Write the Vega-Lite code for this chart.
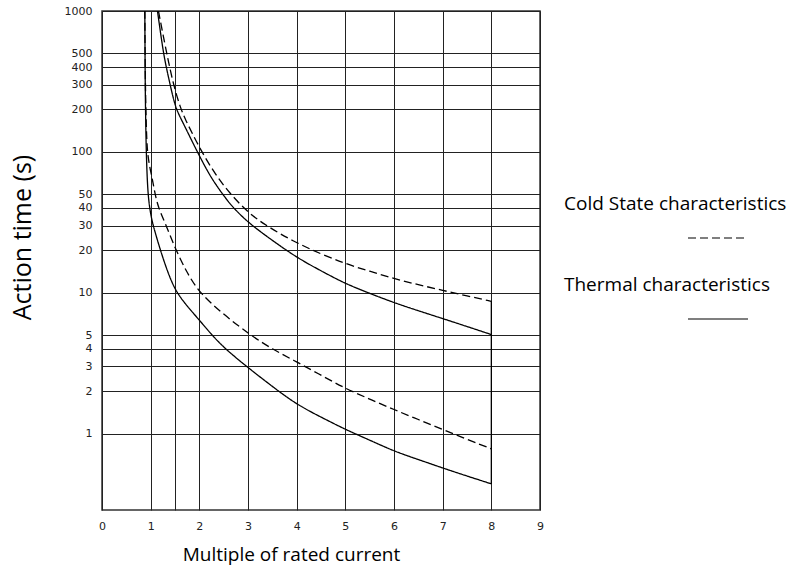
{
  "$schema": "https://vega.github.io/schema/vega-lite/v6.json",
  "width": 438,
  "height": 499,
  "autosize": {"type": "none"},
  "padding": {"left": 102, "top": 11, "right": 252, "bottom": 63},
  "background": "white",
  "config": {
    "view": {"stroke": "#333", "strokeWidth": 1.5}
  },
  "datasets": {
    "curves": [
      {"curve": "upper", "type": "Thermal characteristics", "x": 1.14, "t": 1000},
      {"curve": "upper", "type": "Thermal characteristics", "x": 1.2, "t": 710},
      {"curve": "upper", "type": "Thermal characteristics", "x": 1.265, "t": 500},
      {"curve": "upper", "type": "Thermal characteristics", "x": 1.32, "t": 400},
      {"curve": "upper", "type": "Thermal characteristics", "x": 1.4, "t": 300},
      {"curve": "upper", "type": "Thermal characteristics", "x": 1.5, "t": 212},
      {"curve": "upper", "type": "Thermal characteristics", "x": 1.6, "t": 178},
      {"curve": "upper", "type": "Thermal characteristics", "x": 1.7, "t": 152},
      {"curve": "upper", "type": "Thermal characteristics", "x": 1.83, "t": 123},
      {"curve": "upper", "type": "Thermal characteristics", "x": 1.96, "t": 100},
      {"curve": "upper", "type": "Thermal characteristics", "x": 2.22, "t": 67},
      {"curve": "upper", "type": "Thermal characteristics", "x": 2.48, "t": 50},
      {"curve": "upper", "type": "Thermal characteristics", "x": 2.67, "t": 41},
      {"curve": "upper", "type": "Thermal characteristics", "x": 3, "t": 31.5},
      {"curve": "upper", "type": "Thermal characteristics", "x": 3.5, "t": 23.5},
      {"curve": "upper", "type": "Thermal characteristics", "x": 4, "t": 17.8},
      {"curve": "upper", "type": "Thermal characteristics", "x": 4.5, "t": 14.3},
      {"curve": "upper", "type": "Thermal characteristics", "x": 5, "t": 11.6},
      {"curve": "upper", "type": "Thermal characteristics", "x": 5.5, "t": 9.9},
      {"curve": "upper", "type": "Thermal characteristics", "x": 6, "t": 8.5},
      {"curve": "upper", "type": "Thermal characteristics", "x": 6.5, "t": 7.45},
      {"curve": "upper", "type": "Thermal characteristics", "x": 7, "t": 6.56},
      {"curve": "upper", "type": "Thermal characteristics", "x": 7.5, "t": 5.76},
      {"curve": "upper", "type": "Thermal characteristics", "x": 8, "t": 5.05},

      {"curve": "upper", "type": "Cold State characteristics", "x": 1.16, "t": 1000},
      {"curve": "upper", "type": "Cold State characteristics", "x": 1.24, "t": 720},
      {"curve": "upper", "type": "Cold State characteristics", "x": 1.33, "t": 500},
      {"curve": "upper", "type": "Cold State characteristics", "x": 1.39, "t": 400},
      {"curve": "upper", "type": "Cold State characteristics", "x": 1.47, "t": 300},
      {"curve": "upper", "type": "Cold State characteristics", "x": 1.61, "t": 205},
      {"curve": "upper", "type": "Cold State characteristics", "x": 1.72, "t": 168},
      {"curve": "upper", "type": "Cold State characteristics", "x": 1.86, "t": 134},
      {"curve": "upper", "type": "Cold State characteristics", "x": 2.05, "t": 100},
      {"curve": "upper", "type": "Cold State characteristics", "x": 2.33, "t": 69},
      {"curve": "upper", "type": "Cold State characteristics", "x": 2.62, "t": 51},
      {"curve": "upper", "type": "Cold State characteristics", "x": 3, "t": 37},
      {"curve": "upper", "type": "Cold State characteristics", "x": 3.4, "t": 29.5},
      {"curve": "upper", "type": "Cold State characteristics", "x": 3.93, "t": 23.2},
      {"curve": "upper", "type": "Cold State characteristics", "x": 4.5, "t": 18.8},
      {"curve": "upper", "type": "Cold State characteristics", "x": 5, "t": 16.1},
      {"curve": "upper", "type": "Cold State characteristics", "x": 5.5, "t": 14.2},
      {"curve": "upper", "type": "Cold State characteristics", "x": 6, "t": 12.6},
      {"curve": "upper", "type": "Cold State characteristics", "x": 6.5, "t": 11.4},
      {"curve": "upper", "type": "Cold State characteristics", "x": 7, "t": 10.4},
      {"curve": "upper", "type": "Cold State characteristics", "x": 7.5, "t": 9.5},
      {"curve": "upper", "type": "Cold State characteristics", "x": 8, "t": 8.7},

      {"curve": "lower", "type": "Thermal characteristics", "x": 0.88, "t": 1000},
      {"curve": "lower", "type": "Thermal characteristics", "x": 0.884, "t": 500},
      {"curve": "lower", "type": "Thermal characteristics", "x": 0.89, "t": 250},
      {"curve": "lower", "type": "Thermal characteristics", "x": 0.9, "t": 150},
      {"curve": "lower", "type": "Thermal characteristics", "x": 0.91, "t": 100},
      {"curve": "lower", "type": "Thermal characteristics", "x": 0.925, "t": 70},
      {"curve": "lower", "type": "Thermal characteristics", "x": 0.94, "t": 55},
      {"curve": "lower", "type": "Thermal characteristics", "x": 0.96, "t": 45},
      {"curve": "lower", "type": "Thermal characteristics", "x": 1.0, "t": 36},
      {"curve": "lower", "type": "Thermal characteristics", "x": 1.05, "t": 30},
      {"curve": "lower", "type": "Thermal characteristics", "x": 1.2, "t": 20},
      {"curve": "lower", "type": "Thermal characteristics", "x": 1.35, "t": 14},
      {"curve": "lower", "type": "Thermal characteristics", "x": 1.5, "t": 10.5},
      {"curve": "lower", "type": "Thermal characteristics", "x": 1.7, "t": 8.4},
      {"curve": "lower", "type": "Thermal characteristics", "x": 2, "t": 6.4},
      {"curve": "lower", "type": "Thermal characteristics", "x": 2.26, "t": 5.0},
      {"curve": "lower", "type": "Thermal characteristics", "x": 2.53, "t": 4.0},
      {"curve": "lower", "type": "Thermal characteristics", "x": 3, "t": 2.94},
      {"curve": "lower", "type": "Thermal characteristics", "x": 3.5, "t": 2.16},
      {"curve": "lower", "type": "Thermal characteristics", "x": 4, "t": 1.61},
      {"curve": "lower", "type": "Thermal characteristics", "x": 4.5, "t": 1.31},
      {"curve": "lower", "type": "Thermal characteristics", "x": 5, "t": 1.07},
      {"curve": "lower", "type": "Thermal characteristics", "x": 5.5, "t": 0.9},
      {"curve": "lower", "type": "Thermal characteristics", "x": 6, "t": 0.75},
      {"curve": "lower", "type": "Thermal characteristics", "x": 6.5, "t": 0.655},
      {"curve": "lower", "type": "Thermal characteristics", "x": 7, "t": 0.57},
      {"curve": "lower", "type": "Thermal characteristics", "x": 7.5, "t": 0.5},
      {"curve": "lower", "type": "Thermal characteristics", "x": 8, "t": 0.44},

      {"curve": "lower", "type": "Cold State characteristics", "x": 0.88, "t": 1000},
      {"curve": "lower", "type": "Cold State characteristics", "x": 0.885, "t": 500},
      {"curve": "lower", "type": "Cold State characteristics", "x": 0.895, "t": 250},
      {"curve": "lower", "type": "Cold State characteristics", "x": 0.91, "t": 150},
      {"curve": "lower", "type": "Cold State characteristics", "x": 0.93, "t": 100},
      {"curve": "lower", "type": "Cold State characteristics", "x": 0.98, "t": 78},
      {"curve": "lower", "type": "Cold State characteristics", "x": 1.04, "t": 63},
      {"curve": "lower", "type": "Cold State characteristics", "x": 1.09, "t": 50},
      {"curve": "lower", "type": "Cold State characteristics", "x": 1.16, "t": 40},
      {"curve": "lower", "type": "Cold State characteristics", "x": 1.32, "t": 30},
      {"curve": "lower", "type": "Cold State characteristics", "x": 1.52, "t": 20},
      {"curve": "lower", "type": "Cold State characteristics", "x": 1.75, "t": 13.8},
      {"curve": "lower", "type": "Cold State characteristics", "x": 2, "t": 10},
      {"curve": "lower", "type": "Cold State characteristics", "x": 2.5, "t": 7},
      {"curve": "lower", "type": "Cold State characteristics", "x": 3.05, "t": 5},
      {"curve": "lower", "type": "Cold State characteristics", "x": 3.49, "t": 4},
      {"curve": "lower", "type": "Cold State characteristics", "x": 4, "t": 3.23},
      {"curve": "lower", "type": "Cold State characteristics", "x": 4.5, "t": 2.6},
      {"curve": "lower", "type": "Cold State characteristics", "x": 5, "t": 2.09},
      {"curve": "lower", "type": "Cold State characteristics", "x": 5.5, "t": 1.76},
      {"curve": "lower", "type": "Cold State characteristics", "x": 6, "t": 1.48},
      {"curve": "lower", "type": "Cold State characteristics", "x": 6.5, "t": 1.26},
      {"curve": "lower", "type": "Cold State characteristics", "x": 7, "t": 1.07},
      {"curve": "lower", "type": "Cold State characteristics", "x": 7.5, "t": 0.91},
      {"curve": "lower", "type": "Cold State characteristics", "x": 8, "t": 0.78}
    ]
  },
  "data": {"name": "curves"},
  "layer": [
    {
      "mark": {"type": "line", "color": "black", "strokeWidth": 1.3, "interpolate": "basis", "clip": true},
      "encoding": {
        "x": {
          "field": "x", "type": "quantitative", "title": "Multiple of rated current",
          "scale": {"domain": [0, 9], "nice": false, "zero": false},
          "axis": {
            "values": [0, 1, 1.5, 2, 3, 4, 5, 6, 7, 8, 9],
            "labelExpr": "datum.value == 1.5 ? '' : format(datum.value, 'd')",
            "grid": true, "gridColor": "#222", "gridWidth": 1, "gridOpacity": 1,
            "ticks": false, "domain": false,
            "labelFont": "DejaVu Sans", "labelFontSize": 11, "labelColor": "#222",
            "labelPadding": 10, "labelFlush": false, "labelOverlap": false,
            "titleFont": "Open Sans", "titleFontSize": 19, "titleFontWeight": "normal", "titleColor": "black",
            "titleX": 189, "titleY": 50, "titleAlign": "center", "titleBaseline": "alphabetic"
          }
        },
        "y": {
          "field": "t", "type": "quantitative", "title": "Action time (s)",
          "scale": {"type": "log", "domain": [0.287, 1000], "nice": false},
          "axis": {
            "values": [1, 2, 3, 4, 5, 10, 20, 30, 40, 50, 100, 200, 300, 400, 500, 1000],
            "labelExpr": "format(datum.value, 'd')",
            "grid": true, "gridColor": "#222", "gridWidth": 1, "gridOpacity": 1,
            "ticks": false, "domain": false,
            "labelFont": "DejaVu Sans", "labelFontSize": 11, "labelColor": "#222",
            "labelPadding": 10, "labelFlush": false, "labelOverlap": false,
            "titleFont": "Open Sans", "titleFontSize": 25, "titleFontWeight": "normal", "titleColor": "black",
            "titleX": -80, "titleY": 226, "titleAngle": 270, "titleAlign": "center", "titleBaseline": "middle"
          }
        },
        "detail": {"field": "curve", "type": "nominal"},
        "strokeDash": {
          "field": "type", "type": "nominal",
          "scale": {"domain": ["Cold State characteristics", "Thermal characteristics"], "range": [[8, 4], [1, 0]]},
          "legend": {
            "title": null, "orient": "none", "legendX": 400, "legendY": 196, "padding": 0,
            "symbolType": "stroke", "symbolSize": 3600, "symbolStrokeWidth": 1.2, "symbolStrokeColor": "black",
            "symbolOffset": 185, "labelOffset": -185, "rowPadding": 35,
            "labelFont": "Open Sans", "labelFontSize": 19, "labelColor": "black", "labelLimit": 0,
            "labelBaseline": "alphabetic",
            "encode": {
              "labels": {"update": {"dy": {"value": -28}}},
              "symbols": {"update": {"strokeDash": {"signal": "datum.value == 'Cold State characteristics' ? [6, 4] : [1, 0]"}}}
            }
          }
        }
      }
    },
    {
      "transform": [{"filter": "datum.x == 8"}],
      "mark": {"type": "rule", "color": "black", "strokeWidth": 1.3},
      "encoding": {
        "x": {"field": "x", "type": "quantitative", "title": "Multiple of rated current"},
        "y": {"aggregate": "min", "field": "t", "type": "quantitative", "title": "Action time (s)"},
        "y2": {"aggregate": "max", "field": "t"}
      }
    }
  ]
}
